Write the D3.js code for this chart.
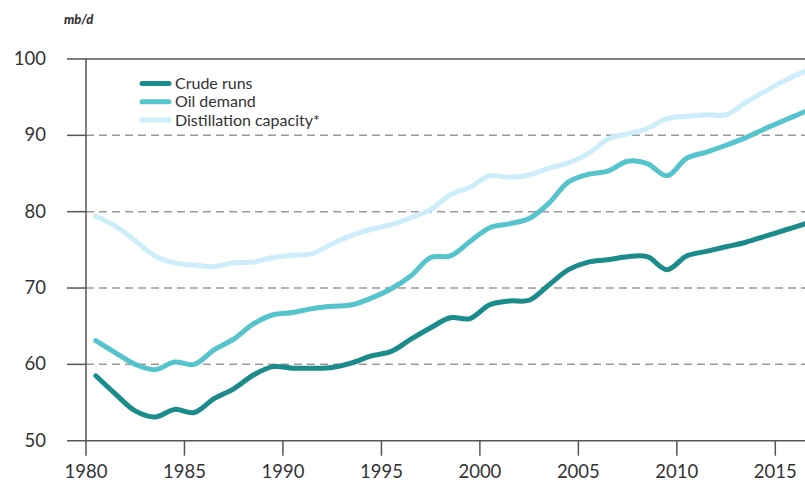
<!DOCTYPE html>
<html>
<head>
<meta charset="utf-8">
<script src="https://cdn.jsdelivr.net/npm/d3@7"></script>
<style>
  html, body { margin: 0; padding: 0; background: #fff; }
  svg { display: block; }
</style>
</head>
<body>
<svg id="chart" width="805" height="481"></svg>
<script>
const years = [1980.5,1981.5,1982.5,1983.5,1984.5,1985.5,1986.5,1987.5,1988.5,1989.5,
  1990.5,1991.5,1992.5,1993.5,1994.5,1995.5,1996.5,1997.5,1998.5,1999.5,
  2000.5,2001.5,2002.5,2003.5,2004.5,2005.5,2006.5,2007.5,2008.5,2009.5,
  2010.5,2011.5,2012.5,2013.5,2014.5,2015.5,2016.5];

const crudeRuns = [58.5,56.1,53.9,53.1,54.1,53.7,55.5,56.8,58.6,59.7,
  59.5,59.5,59.6,60.2,61.1,61.7,63.3,64.8,66.1,66.0,
  67.8,68.3,68.4,70.4,72.4,73.4,73.7,74.1,74.1,72.4,
  74.2,74.8,75.4,76.0,76.8,77.6,78.4];

const oilDemand = [63.1,61.5,60.0,59.3,60.3,60.0,61.9,63.3,65.3,66.5,
  66.8,67.3,67.6,67.8,68.7,69.9,71.6,74.0,74.2,76.1,
  77.9,78.4,79.1,81.1,83.9,84.9,85.3,86.6,86.3,84.7,
  87.0,87.8,88.7,89.7,90.9,92.0,93.1];

const distillation = [79.4,78.1,76.2,74.2,73.3,73.0,72.8,73.3,73.4,74.0,
  74.3,74.5,75.8,76.9,77.7,78.3,79.2,80.3,82.2,83.2,
  84.7,84.5,84.8,85.7,86.4,87.6,89.5,90.2,90.9,92.2,
  92.5,92.7,92.7,94.3,95.8,97.2,98.4];

const seriesNames = ["Crude runs", "Oil demand", "Distillation capacity*"];
const seriesColors = ["#1b8b8b", "#55c4cc", "#cdedfa"];
const yTicks = [50, 60, 70, 80, 90, 100];
const xTicks = [1980, 1985, 1990, 1995, 2000, 2005, 2010, 2015];
const unitLabel = "mb/d";

const svg = d3.select("#chart");
const font = "Lato, 'Open Sans', sans-serif";

const x = d3.scaleLinear().domain([1980, 2015]).range([86, 775.3]);
const y = d3.scaleLinear().domain([50, 100]).range([440.7, 59]);
const left = 67, right = 805;

// gridlines
const grid = svg.append("g");
yTicks.forEach(t => {
  const solid = (t === 50 || t === 100);
  grid.append("line")
    .attr("x1", solid ? left : x(1980)).attr("x2", right)
    .attr("y1", y(t)).attr("y2", y(t))
    .attr("stroke", solid ? "#555" : "#9a9a9a")
    .attr("stroke-width", 1.5)
    .attr("stroke-dasharray", solid ? null : "8,5");
  if (!solid) {
    grid.append("line")
      .attr("x1", left).attr("x2", x(1980))
      .attr("y1", y(t)).attr("y2", y(t))
      .attr("stroke", "#555").attr("stroke-width", 1.5);
  }
});

// y axis line
svg.append("line")
  .attr("x1", x(1980)).attr("x2", x(1980))
  .attr("y1", y(100)).attr("y2", y(50))
  .attr("stroke", "#555").attr("stroke-width", 1.5);

// y labels
svg.append("g").selectAll("text").data(yTicks).join("text")
  .attr("x", 46).attr("y", d => y(d))
  .attr("dy", "0.33em")
  .attr("text-anchor", "end")
  .attr("font-family", font).attr("font-size", 18.5)
  .attr("fill", "#333")
  .text(d => d);

// x axis ticks
const xg = svg.append("g");
xg.selectAll("line").data(xTicks).join("line")
  .attr("x1", d => x(d)).attr("x2", d => x(d))
  .attr("y1", y(50)).attr("y2", y(50) + 15)
  .attr("stroke", "#555").attr("stroke-width", 1.5);
xg.selectAll("text").data(xTicks).join("text")
  .attr("x", d => x(d)).attr("y", 478)
  .attr("text-anchor", "middle")
  .attr("font-family", font).attr("font-size", 18.5)
  .attr("fill", "#333")
  .text(d => d);

// unit label
svg.append("text")
  .attr("x", 64).attr("y", 24)
  .attr("font-family", font).attr("font-size", 13)
  .attr("font-weight", 900).attr("font-style", "italic")
  .attr("fill", "#333")
  .text(unitLabel);

// lines
const line = d3.line()
  .x((d, i) => x(years[i]))
  .y(d => y(d))
  .curve(d3.curveCatmullRom.alpha(0.5));

const seriesData = [crudeRuns, oilDemand, distillation];
[2, 1, 0].forEach(k => {
  svg.append("path")
    .attr("d", line(seriesData[k]))
    .attr("fill", "none")
    .attr("stroke", seriesColors[k])
    .attr("stroke-width", 5)
    .attr("stroke-linecap", "round")
    .attr("stroke-linejoin", "round");
});

// legend
const lg = svg.append("g");
seriesNames.forEach((name, i) => {
  const ly = 83.5 + i * 18.3;
  lg.append("line")
    .attr("x1", 142).attr("x2", 169)
    .attr("y1", ly).attr("y2", ly)
    .attr("stroke", seriesColors[i])
    .attr("stroke-width", 5)
    .attr("stroke-linecap", "round");
  lg.append("text")
    .attr("x", 175).attr("y", ly)
    .attr("dy", "0.35em")
    .attr("font-family", font).attr("font-size", 16)
    .attr("fill", "#333")
    .text(name);
});
</script>
</body>
</html>
